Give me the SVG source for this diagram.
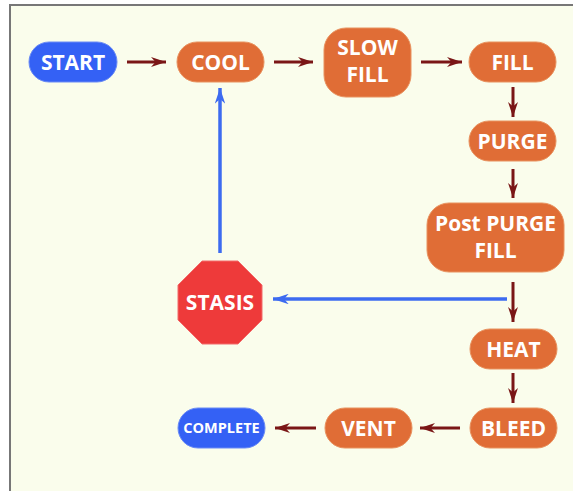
<svg xmlns="http://www.w3.org/2000/svg" width="573" height="491" viewBox="0 0 573 491">
<style>
.o{fill:#E06D36;stroke:#E8925F;stroke-width:1}
.b{fill:#3461F5;stroke:#6A8BF5;stroke-width:1}
.t{font-family:"Open Sans","DejaVu Sans",sans-serif;font-weight:bold;font-size:21px;fill:#fff;text-anchor:middle}
.r{stroke:#7A1616;stroke-width:3;fill:none}
.bl{stroke:#3D6BF0;stroke-width:3.5;fill:none}
</style>
<defs>
<marker id="ar" viewBox="0 0 10 10" refX="10" refY="5" markerWidth="5" markerHeight="3.3" orient="auto" markerUnits="strokeWidth" preserveAspectRatio="none">
<path d="M0,0 L10,5 L0,10 L3,5 Z" fill="#7A1616"/>
</marker>
<marker id="ab" viewBox="0 0 10 10" refX="10" refY="5" markerWidth="4.5" markerHeight="3" orient="auto" markerUnits="strokeWidth" preserveAspectRatio="none">
<path d="M0,0 L10,5 L0,10 L3,5 Z" fill="#3D6BF0"/>
</marker>
</defs>
<rect x="10" y="5" width="600" height="520" fill="#FAFDEC" stroke="#777" stroke-width="2"/>
<g id="connectors">
<line class="r" x1="127" y1="62" x2="166" y2="62" marker-end="url(#ar)"/>
<line class="r" x1="274" y1="62" x2="313" y2="62" marker-end="url(#ar)"/>
<line class="r" x1="421" y1="62" x2="462" y2="62" marker-end="url(#ar)"/>
<line class="r" x1="513" y1="87" x2="513" y2="117" marker-end="url(#ar)"/>
<line class="r" x1="513" y1="169" x2="513" y2="198" marker-end="url(#ar)"/>
<line class="r" x1="513" y1="282" x2="513" y2="322" marker-end="url(#ar)"/>
<line class="r" x1="513" y1="373" x2="513" y2="403" marker-end="url(#ar)"/>
<line class="r" x1="460" y1="428" x2="420" y2="428" marker-end="url(#ar)"/>
<line class="r" x1="316" y1="428" x2="275" y2="428" marker-end="url(#ar)"/>
<line class="bl" x1="507" y1="299" x2="273" y2="299" marker-end="url(#ab)"/>
<line class="bl" x1="220" y1="253" x2="220" y2="88" marker-end="url(#ab)"/>
</g>
<g id="start"><rect class="b" x="29" y="42" width="88" height="40" rx="20"/><text class="t" x="73" y="69.5">START</text></g>
<g id="cool"><rect class="o" x="177" y="42" width="87" height="40" rx="20"/><text class="t" x="220.5" y="69.5">COOL</text></g>
<g id="slowfill"><rect class="o" x="324" y="28" width="87" height="69" rx="22"/><text class="t" x="367.5" y="55">SLOW</text><text class="t" x="367.5" y="82">FILL</text></g>
<g id="fill"><rect class="o" x="469" y="42" width="87" height="40" rx="20"/><text class="t" x="512.5" y="69.5">FILL</text></g>
<g id="purge"><rect class="o" x="469" y="121" width="87" height="40" rx="20"/><text class="t" x="512.5" y="148.5">PURGE</text></g>
<g id="postpurgefill"><rect class="o" x="427" y="203" width="137" height="69" rx="22"/><text class="t" x="495.5" y="230.5">Post PURGE</text><text class="t" x="495.5" y="257.5">FILL</text></g>
<g id="heat"><rect class="o" x="470" y="329" width="87" height="40" rx="20"/><text class="t" x="513.5" y="356.5">HEAT</text></g>
<g id="bleed"><rect class="o" x="470" y="408" width="87" height="40" rx="20"/><text class="t" x="513.5" y="435.5">BLEED</text></g>
<g id="vent"><rect class="o" x="325" y="408" width="87" height="40" rx="20"/><text class="t" x="368.5" y="435.5">VENT</text></g>
<g id="complete"><rect class="b" x="178" y="408" width="87" height="40" rx="20"/><text class="t" x="221.5" y="433" style="font-size:14.5px">COMPLETE</text></g>
<g id="stasis"><polygon points="202,261 238,261 262,285 262,320 238,344 202,344 178,320 178,285" fill="#EE3A3A" stroke="#F26A6A" stroke-width="1"/><text class="t" x="220" y="309.5">STASIS</text></g>
</svg>
